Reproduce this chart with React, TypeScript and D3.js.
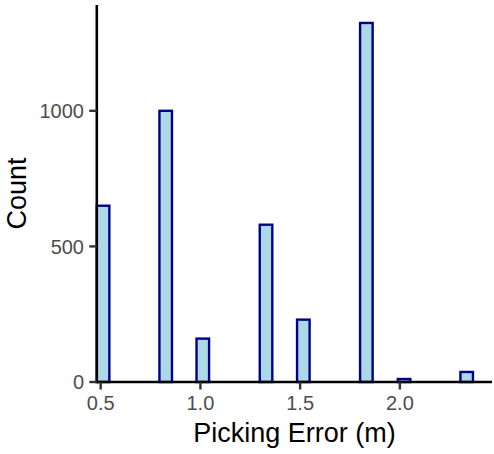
import React from "react";
import * as d3 from "d3";

const binCenters = [0.512, 0.826, 1.012, 1.329, 1.516, 1.832, 2.021, 2.335];
const counts = [650, 1000, 160, 580, 230, 1324, 11, 37];
const binWidth = 0.0629;
const nBins = 30;
const xTicks = [0.5, 1.0, 1.5, 2.0];
const yTicks = [0, 500, 1000];
const xTitle = "Picking Error (m)";
const yTitle = "Count";

export default function App() {
  const W = 494, H = 454;
  const left = 96.8, right = 492, top = 5, bottom = 382;
  const binStart = binCenters[0] - binWidth / 2;
  const binEnd = binStart + nBins * binWidth;
  const span = binEnd - binStart;
  const x = d3.scaleLinear().domain([binStart, binEnd + 0.05 * span]).range([left, right]);
  const yMax = (d3.max(counts) as number) * 1.05;
  const y = d3.scaleLinear().domain([0, yMax]).range([bottom, top]);
  const font = "'Liberation Sans', Arial, sans-serif";

  return (
    <svg width={W} height={H} style={{ position: "absolute", left: 0, top: 0 }}>
      <rect width={W} height={H} fill="#fff" />
      {binCenters.map((c, i) => (
        <rect
          key={i}
          x={x(c - binWidth / 2)}
          y={y(counts[i])}
          width={x(c + binWidth / 2) - x(c - binWidth / 2)}
          height={y(0) - y(counts[i])}
          fill="#ADD8E6"
          stroke="#00008B"
          strokeWidth={2.4}
        />
      ))}
      <line x1={left} x2={right} y1={bottom} y2={bottom} stroke="#000" strokeWidth={2.6} />
      <line x1={left} x2={left} y1={top} y2={bottom + 1.3} stroke="#000" strokeWidth={2.6} />
      {xTicks.map((t) => (
        <g key={t}>
          <line x1={x(t)} x2={x(t)} y1={bottom} y2={bottom + 7.5} stroke="#333" strokeWidth={2.4} />
          <text x={x(t)} y={409.5} textAnchor="middle" fontFamily={font} fontSize={20} fill="#4D4D4D">
            {t.toFixed(1)}
          </text>
        </g>
      ))}
      {yTicks.map((t) => (
        <g key={t}>
          <line x1={left - 7.5} x2={left} y1={y(t)} y2={y(t)} stroke="#333" strokeWidth={2.4} />
          <text x={84} y={y(t)} dy="0.36em" textAnchor="end" fontFamily={font} fontSize={20} fill="#4D4D4D">
            {t}
          </text>
        </g>
      ))}
      <text x={(left + right) / 2} y={442} textAnchor="middle" fontFamily={font} fontSize={27} fill="#000">
        {xTitle}
      </text>
      <text
        transform={`translate(26,${(top + bottom) / 2}) rotate(-90)`}
        textAnchor="middle"
        fontFamily={font}
        fontSize={27}
        fill="#000"
      >
        {yTitle}
      </text>
    </svg>
  );
}
